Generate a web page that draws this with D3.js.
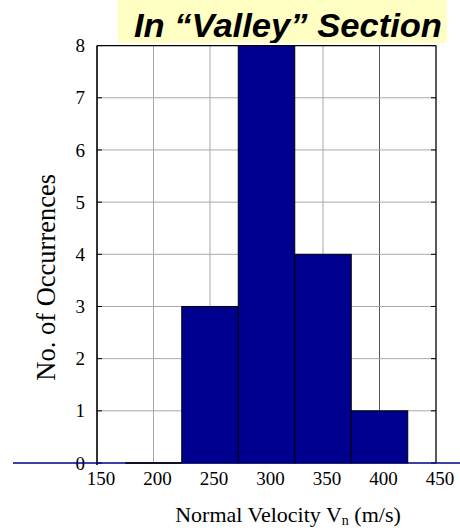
<!DOCTYPE html>
<html>
<head>
<meta charset="utf-8">
<script src="https://cdn.jsdelivr.net/npm/d3@7"></script>
<style>
  html, body { margin: 0; padding: 0; background: #fff; }
  svg { display: block; }
</style>
</head>
<body>
<svg id="chart" width="460" height="531"></svg>
<script>
// Histogram of normal velocity in the "valley" section
const binCenters = [250, 300, 350, 400];
const counts = [3, 8, 4, 1];
const binWidth = 50;
const xTicks = [150, 200, 250, 300, 350, 400, 450];
const yTicks = [0, 1, 2, 3, 4, 5, 6, 7, 8];
const titleText = "In \u201cValley\u201d Section";
const yLabel = "No. of Occurrences";

const svg = d3.select("#chart");
const plot = { left: 97, right: 436, top: 45.6, bottom: 463 };

const x = d3.scaleLinear().domain([150, 450]).range([plot.left, plot.right]);
const y = d3.scaleLinear().domain([0, 8]).range([plot.bottom, plot.top]);

const serif = "'Liberation Serif', 'Times New Roman', serif";

// grid lines
svg.append("g")
  .selectAll("line")
  .data(xTicks.slice(1, -1))
  .join("line")
  .attr("x1", d => x(d)).attr("x2", d => x(d))
  .attr("y1", plot.top).attr("y2", plot.bottom)
  .attr("stroke", d => d === 400 ? "#555" : "#a8a8a8")
  .attr("stroke-width", 1);

svg.append("g")
  .selectAll("line")
  .data(yTicks.slice(1, -1))
  .join("line")
  .attr("x1", plot.left).attr("x2", plot.right)
  .attr("y1", d => y(d)).attr("y2", d => y(d))
  .attr("stroke", "#a8a8a8")
  .attr("stroke-width", 1);

// bars
svg.append("g")
  .selectAll("rect")
  .data(binCenters.map((c, i) => ({ c, n: counts[i] })))
  .join("rect")
  .attr("x", d => x(d.c - binWidth / 2))
  .attr("width", d => x(d.c + binWidth / 2) - x(d.c - binWidth / 2))
  .attr("y", d => y(d.n))
  .attr("height", d => y(0) - y(d.n))
  .attr("fill", "#00008f")
  .attr("stroke", "#000")
  .attr("stroke-width", 1);

// frame
const frame = svg.append("g").attr("stroke", "#000").attr("fill", "none");
frame.append("line").attr("x1", plot.left).attr("x2", plot.left)
  .attr("y1", plot.top).attr("y2", plot.bottom + 2).attr("stroke-width", 1.6);
frame.append("line").attr("x1", plot.right).attr("x2", plot.right)
  .attr("y1", plot.top).attr("y2", plot.bottom).attr("stroke-width", 1.3);
frame.append("line").attr("x1", plot.left).attr("x2", plot.right)
  .attr("y1", plot.top).attr("y2", plot.top).attr("stroke-width", 1.3);

// inward ticks on left and right
svg.append("g")
  .selectAll("line")
  .data(yTicks)
  .join("line")
  .attr("x1", plot.left).attr("x2", plot.left + 5)
  .attr("y1", d => y(d)).attr("y2", d => y(d))
  .attr("stroke", "#000");
svg.append("g")
  .selectAll("line")
  .data(yTicks)
  .join("line")
  .attr("x1", plot.right - 5).attr("x2", plot.right)
  .attr("y1", d => y(d)).attr("y2", d => y(d))
  .attr("stroke", "#000");

// y tick labels
svg.append("g")
  .selectAll("text")
  .data(yTicks)
  .join("text")
  .attr("x", plot.left - 12)
  .attr("y", d => y(d))
  .attr("dy", "0.35em")
  .attr("text-anchor", "end")
  .attr("font-family", serif)
  .attr("font-size", 19)
  .attr("fill", "#000")
  .text(d => d);

// x tick labels
svg.append("g")
  .selectAll("text")
  .data(xTicks)
  .join("text")
  .attr("x", d => x(d) + 4)
  .attr("y", 485)
  .attr("text-anchor", "middle")
  .attr("font-family", serif)
  .attr("font-size", 19)
  .attr("fill", "#000")
  .text(d => d);

// baseline
svg.append("line")
  .attr("x1", 13).attr("x2", 460)
  .attr("y1", y(0)).attr("y2", y(0))
  .attr("stroke", "#000080").attr("stroke-width", 1.3);
svg.append("line")
  .attr("x1", x(175)).attr("x2", x(225))
  .attr("y1", y(0)).attr("y2", y(0))
  .attr("stroke", "#000").attr("stroke-width", 1.3);

// axis labels
svg.append("text")
  .attr("transform", `translate(55, ${(plot.top + plot.bottom) / 2 + 23}) rotate(-90)`)
  .attr("text-anchor", "middle")
  .attr("font-family", serif)
  .attr("font-size", 26.5)
  .attr("fill", "#000")
  .text(yLabel);

const xl = svg.append("text")
  .attr("x", 288)
  .attr("y", 522)
  .attr("text-anchor", "middle")
  .attr("font-family", serif)
  .attr("font-size", 22)
  .attr("fill", "#000");
xl.append("tspan").text("Normal Velocity V");
xl.append("tspan").attr("font-size", 14).attr("dy", 3).text("n");
xl.append("tspan").attr("dy", -3).text(" (m/s)");

// title banner
svg.append("defs").append("clipPath").attr("id", "titleClip")
  .append("rect").attr("x", 118).attr("y", 0).attr("width", 329).attr("height", 43);
svg.append("rect")
  .attr("x", 118).attr("y", 0).attr("width", 329).attr("height", 43)
  .attr("fill", "#ffffc4");
svg.append("text")
  .attr("clip-path", "url(#titleClip)")
  .attr("x", 134)
  .attr("y", 37)
  .attr("font-family", "'Liberation Sans', Arial, sans-serif")
  .attr("font-weight", "bold")
  .attr("font-style", "italic")
  .attr("font-size", 33)
  .attr("textLength", 308)
  .attr("lengthAdjust", "spacingAndGlyphs")
  .attr("fill", "#000")
  .text(titleText);
</script>
</body>
</html>
